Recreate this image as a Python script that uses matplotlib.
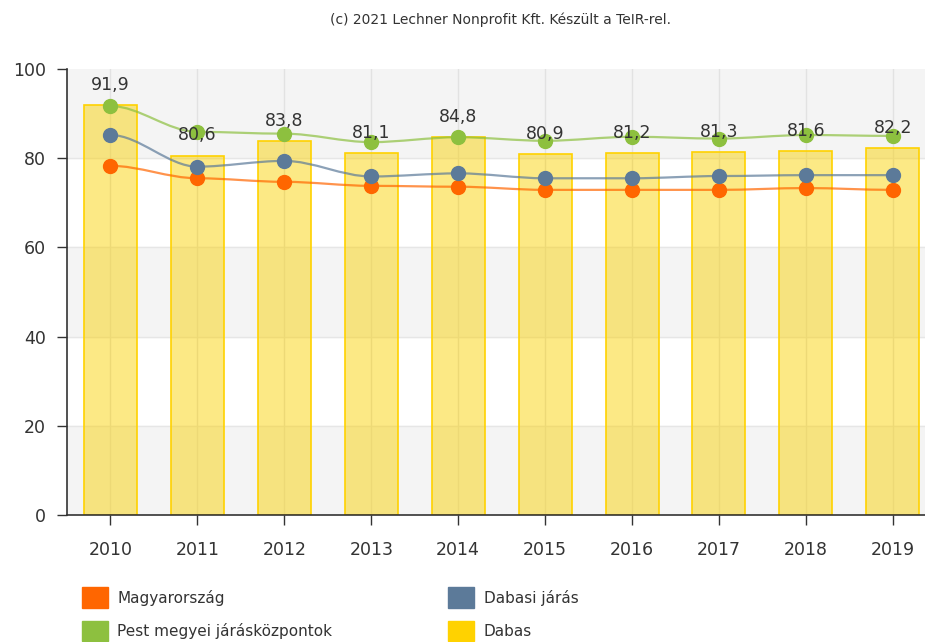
import matplotlib.pyplot as plt
from matplotlib.path import Path
from matplotlib.patches import PathPatch, Patch
import numpy as np

years = ["2010", "2011", "2012", "2013", "2014", "2015", "2016", "2017", "2018", "2019"]
dabas = [91.9, 80.6, 83.8, 81.1, 84.8, 80.9, 81.2, 81.3, 81.6, 82.2]
magyarorszag = [78.3, 75.5, 74.7, 73.8, 73.6, 72.9, 72.9, 72.9, 73.3, 72.9]
dabasi_jaras = [85.2, 78.1, 79.4, 75.9, 76.6, 75.5, 75.5, 76.0, 76.2, 76.2]
pest_jk = [91.7, 85.9, 85.5, 83.6, 84.7, 83.9, 84.8, 84.4, 85.2, 85.0]

c_orange = "#ff6600"
c_blue = "#5c7a99"
c_green = "#8dc03f"
c_yellow = "#ffd200"


def smooth_path(xs, ys):
    # cubic segments with flat tangents at every point
    verts = [(xs[0], ys[0])]
    codes = [Path.MOVETO]
    for i in range(len(xs) - 1):
        dx = (xs[i + 1] - xs[i]) / 3
        verts += [(xs[i] + dx, ys[i]), (xs[i + 1] - dx, ys[i + 1]), (xs[i + 1], ys[i + 1])]
        codes += [Path.CURVE4] * 3
    return Path(verts, codes)


fig = plt.figure(figsize=(9.25, 6.42), dpi=100)
ax = fig.add_axes([67 / 925, 127 / 642, 858 / 925, 446 / 642])
x = np.arange(len(years))

# alternating horizontal bands
for lo in range(0, 100, 40):
    ax.axhspan(lo, lo + 20, color="#f4f4f4", zorder=0)
for yv in range(20, 100, 20):
    ax.axhline(yv, color="#e6e6e6", lw=1, zorder=1)
for xi in x:
    ax.axvline(xi, color="#e2e2e2", lw=1, zorder=1)

ax.bar(x, dabas, width=0.61, color=(0.98, 0.82, 0.0, 0.48), edgecolor=c_yellow, linewidth=1.2, zorder=2)

for vals, col in [(magyarorszag, c_orange), (dabasi_jaras, c_blue), (pest_jk, c_green)]:
    ax.add_patch(PathPatch(smooth_path(x, vals), fill=False, edgecolor=col, lw=1.6, alpha=0.7, zorder=3))
    ax.plot(x, vals, "o", color=col, markersize=10, zorder=4)

for xi, v in zip(x, dabas):
    ax.annotate(f"{v:.1f}".replace(".", ","), (xi, v), xytext=(0, 8), textcoords="offset points",
                ha="center", va="bottom", fontsize=12.5, color="#333333", zorder=5)

ax.set_xlim(-0.5, 9.37)
ax.set_ylim(0, 100)
ax.set_xticks(x)
ax.set_xticklabels(years)
ax.set_yticks(range(0, 101, 20))
ax.tick_params(axis="both", labelsize=12.5, colors="#333333", length=7, width=1)
ax.tick_params(axis="x", pad=12)
ax.tick_params(axis="y", pad=8)
for s in ["top", "right"]:
    ax.spines[s].set_visible(False)
for s in ["left", "bottom"]:
    ax.spines[s].set_color("#333333")
    ax.spines[s].set_linewidth(1.2)

fig.text(501 / 925, 1 - 20 / 642, "(c) 2021 Lechner Nonprofit Kft. Készült a TeIR-rel.",
         ha="center", va="center", fontsize=10, color="#333333")

handles = [Patch(color=c_orange), Patch(color=c_green), Patch(color=c_blue), Patch(color=c_yellow)]
labels = ["Magyarország", "Pest megyei járásközpontok", "Dabasi járás", "Dabas"]
leg = fig.legend(handles, labels, ncol=2, loc="upper left", bbox_to_anchor=(70 / 925, 1 - 575 / 642),
                 frameon=False, fontsize=11, handlelength=1.7, handleheight=1.7, columnspacing=7.6,
                 labelspacing=0.85, handletextpad=0.6, borderpad=0.3)
for t in leg.get_texts():
    t.set_color("#333333")

fig.savefig("out.png", dpi=100)
